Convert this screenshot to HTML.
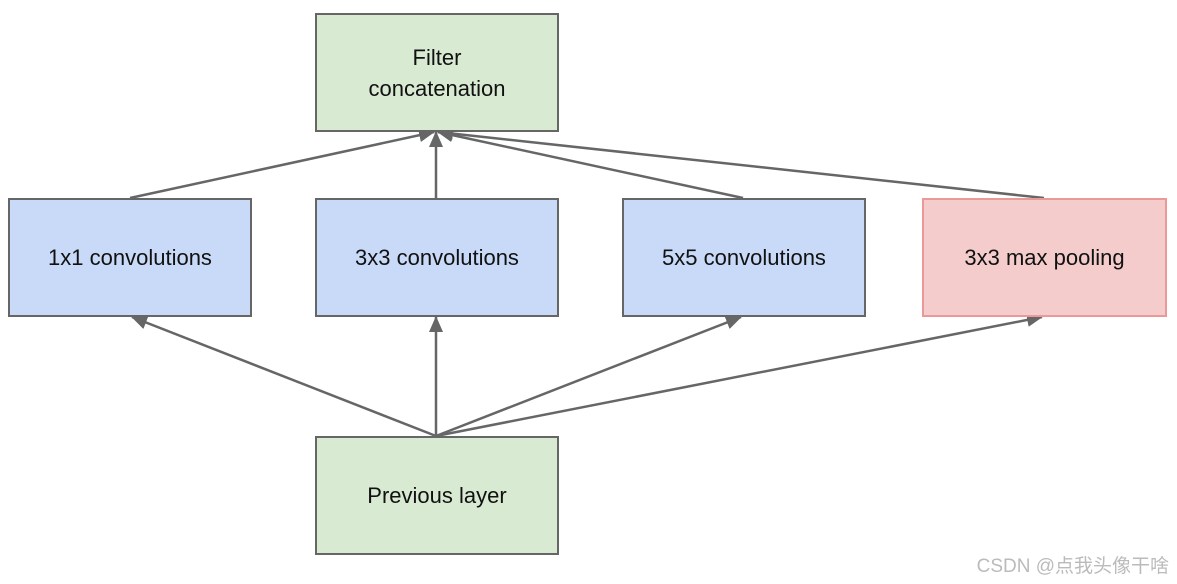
<!DOCTYPE html>
<html><head><style>
body{margin:0;background:#fff;width:1177px;height:584px;overflow:hidden;position:relative;font-family:"Liberation Sans",Arial,sans-serif}
.b{position:absolute;box-sizing:border-box;border:2px solid #666;display:flex;align-items:center;justify-content:center;text-align:center;font-size:22px;color:#111;line-height:31px}
.g{background:#d9ead3}.bl{background:#c9daf8}.r{background:#f4cccc;border-color:#ea9999}
.w{position:absolute;right:8px;bottom:6px;font-family:"Liberation Sans","Noto Sans CJK SC",sans-serif;font-size:19px;color:#bbb}
</style></head><body>
<svg width="1177" height="584" style="position:absolute;left:0;top:0">
<defs><marker id="a" markerWidth="10" markerHeight="10" refX="9" refY="5" orient="auto" markerUnits="userSpaceOnUse"><path d="M0,0 L10,5 L0,10 z" fill="#666"/></marker>
<marker id="m" markerWidth="16" markerHeight="14" refX="15" refY="7" orient="auto" markerUnits="userSpaceOnUse"><path d="M0,0 L16,7 L0,14 z" fill="#666"/></marker></defs>
<g stroke="#666" stroke-width="2.5" fill="none">
<line x1="130" y1="198" x2="434" y2="132" marker-end="url(#m)"/>
<line x1="436" y1="198" x2="436" y2="132" marker-end="url(#m)"/>
<line x1="743" y1="198" x2="438" y2="132" marker-end="url(#m)"/>
<line x1="1044" y1="198" x2="438" y2="132" marker-end="url(#m)"/>
<line x1="436" y1="436" x2="132" y2="317" marker-end="url(#m)"/>
<line x1="436" y1="436" x2="436" y2="317" marker-end="url(#m)"/>
<line x1="436" y1="436" x2="741" y2="317" marker-end="url(#m)"/>
<line x1="436" y1="436" x2="1042" y2="317" marker-end="url(#m)"/>
</g></svg>
<div class="b g" style="left:315px;top:13px;width:244px;height:119px">Filter<br>concatenation</div>
<div class="b bl" style="left:8px;top:198px;width:244px;height:119px">1x1 convolutions</div>
<div class="b bl" style="left:315px;top:198px;width:244px;height:119px">3x3 convolutions</div>
<div class="b bl" style="left:622px;top:198px;width:244px;height:119px">5x5 convolutions</div>
<div class="b r" style="left:922px;top:198px;width:245px;height:119px">3x3 max pooling</div>
<div class="b g" style="left:315px;top:436px;width:244px;height:119px">Previous layer</div>
<div class="w">CSDN @点我头像干啥</div>
</body></html>
